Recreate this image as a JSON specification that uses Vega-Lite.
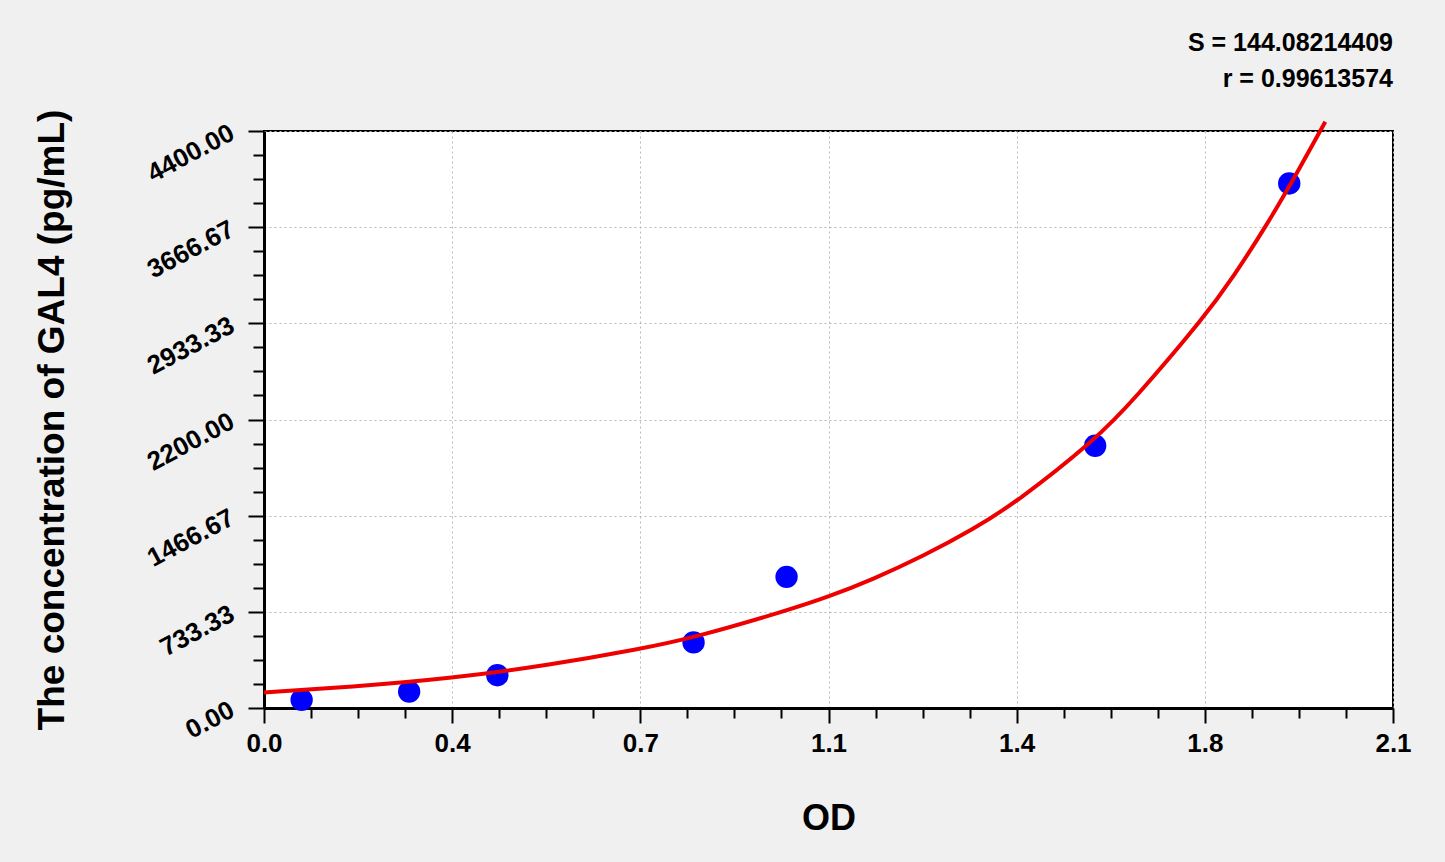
{
  "$schema": "https://vega.github.io/schema/vega-lite/v6.json",
  "width": 1129,
  "height": 577,
  "autosize": {"type": "none"},
  "padding": {"left": 264, "top": 131, "right": 52, "bottom": 154},
  "background": "#f0f0f0",
  "title": {
    "text": "S = 144.08214409",
    "subtitle": "r = 0.99613574",
    "anchor": "end",
    "frame": "group",
    "font": "Liberation Sans",
    "fontSize": 25,
    "fontWeight": "bold",
    "color": "black",
    "subtitleFont": "Liberation Sans",
    "subtitleFontSize": 25,
    "subtitleFontWeight": "bold",
    "subtitleColor": "black",
    "subtitlePadding": 11,
    "offset": 17
  },
  "config": {
    "view": {"fill": "white", "stroke": "black", "strokeWidth": 2},
    "axis": {
      "labelFont": "Liberation Sans",
      "labelFontWeight": "bold",
      "labelFontSize": 26,
      "labelColor": "black",
      "labelOverlap": false,
      "labelFlush": false,
      "titleFont": "Liberation Sans",
      "titleFontWeight": "bold",
      "titleColor": "black",
      "domainColor": "black",
      "domainWidth": 3,
      "tickColor": "black",
      "tickWidth": 2,
      "gridColor": "#b8b8b8",
      "gridDash": [2, 3],
      "gridWidth": 1
    }
  },
  "datasets": {
    "standards": [
      {"od": 0.070, "conc": 62.5},
      {"od": 0.270, "conc": 125},
      {"od": 0.434, "conc": 250},
      {"od": 0.799, "conc": 500},
      {"od": 0.972, "conc": 1000},
      {"od": 1.546, "conc": 2000},
      {"od": 1.907, "conc": 4000}
    ],
    "fit": [
      {"od": 0.0, "conc": 118},
      {"od": 0.16, "conc": 160},
      {"od": 0.35, "conc": 226},
      {"od": 0.532, "conc": 328},
      {"od": 0.7, "conc": 450},
      {"od": 0.799, "conc": 535},
      {"od": 0.972, "conc": 742},
      {"od": 1.05, "conc": 848},
      {"od": 1.133, "conc": 982},
      {"od": 1.226, "conc": 1158},
      {"od": 1.319, "conc": 1362},
      {"od": 1.4, "conc": 1570},
      {"od": 1.546, "conc": 2044},
      {"od": 1.616, "conc": 2340},
      {"od": 1.75, "conc": 2984},
      {"od": 1.803, "conc": 3289},
      {"od": 1.865, "conc": 3680},
      {"od": 1.927, "conc": 4120},
      {"od": 1.974, "conc": 4470}
    ]
  },
  "encoding": {
    "x": {
      "field": "od",
      "type": "quantitative",
      "scale": {"domain": [0, 2.1], "nice": false, "zero": false},
      "axis": {
        "title": "OD",
        "titleFontSize": 36,
        "titleX": 564.5,
        "titleY": 110,
        "titleBaseline": "middle",
        "titleAlign": "center",
        "values": [0, 0.0875, 0.175, 0.2625, 0.35, 0.4375, 0.525, 0.6125, 0.7, 0.7875, 0.875, 0.9625, 1.05, 1.1375, 1.225, 1.3125, 1.4, 1.4875, 1.575, 1.6625, 1.75, 1.8375, 1.925, 2.0125, 2.1],
        "labelExpr": "abs(datum.value / 0.35 - round(datum.value / 0.35)) < 0.01 ? format(datum.value + 0.001, '.1f') : ''",
        "labelPadding": 7,
        "tickSize": {"condition": {"test": "abs(datum.value / 0.35 - round(datum.value / 0.35)) < 0.01", "value": 15}, "value": 10},
        "gridOpacity": {"condition": {"test": "abs(datum.value / 0.35 - round(datum.value / 0.35)) < 0.01", "value": 1}, "value": 0}
      }
    },
    "y": {
      "field": "conc",
      "type": "quantitative",
      "scale": {"domain": [0, 4400], "nice": false},
      "axis": {
        "title": "The concentration of GAL4 (pg/mL)",
        "titleFontSize": 37,
        "titleX": -212,
        "titleY": 288.5,
        "titleBaseline": "middle",
        "titleAlign": "center",
        "values": [0, 183.3333333, 366.6666667, 550, 733.3333333, 916.6666667, 1100, 1283.333333, 1466.666667, 1650, 1833.333333, 2016.666667, 2200, 2383.333333, 2566.666667, 2750, 2933.333333, 3116.666667, 3300, 3483.333333, 3666.666667, 3850, 4033.333333, 4216.666667, 4400],
        "labelExpr": "abs(datum.value / 733.3333333 - round(datum.value / 733.3333333)) < 0.01 ? format(datum.value, '.2f') : ''",
        "labelAngle": -28,
        "labelAlign": "right",
        "labelBaseline": "middle",
        "labelPadding": 16,
        "tickSize": {"condition": {"test": "abs(datum.value / 733.3333333 - round(datum.value / 733.3333333)) < 0.01", "value": 16}, "value": 11},
        "gridOpacity": {"condition": {"test": "abs(datum.value / 733.3333333 - round(datum.value / 733.3333333)) < 0.01", "value": 1}, "value": 0}
      }
    }
  },
  "layer": [
    {
      "data": {"name": "standards"},
      "mark": {"type": "circle", "size": 500, "color": "#0000ff", "opacity": 1}
    },
    {
      "data": {"name": "fit"},
      "mark": {"type": "line", "color": "#ee0000", "strokeWidth": 4, "interpolate": "basis", "clip": false}
    }
  ]
}
